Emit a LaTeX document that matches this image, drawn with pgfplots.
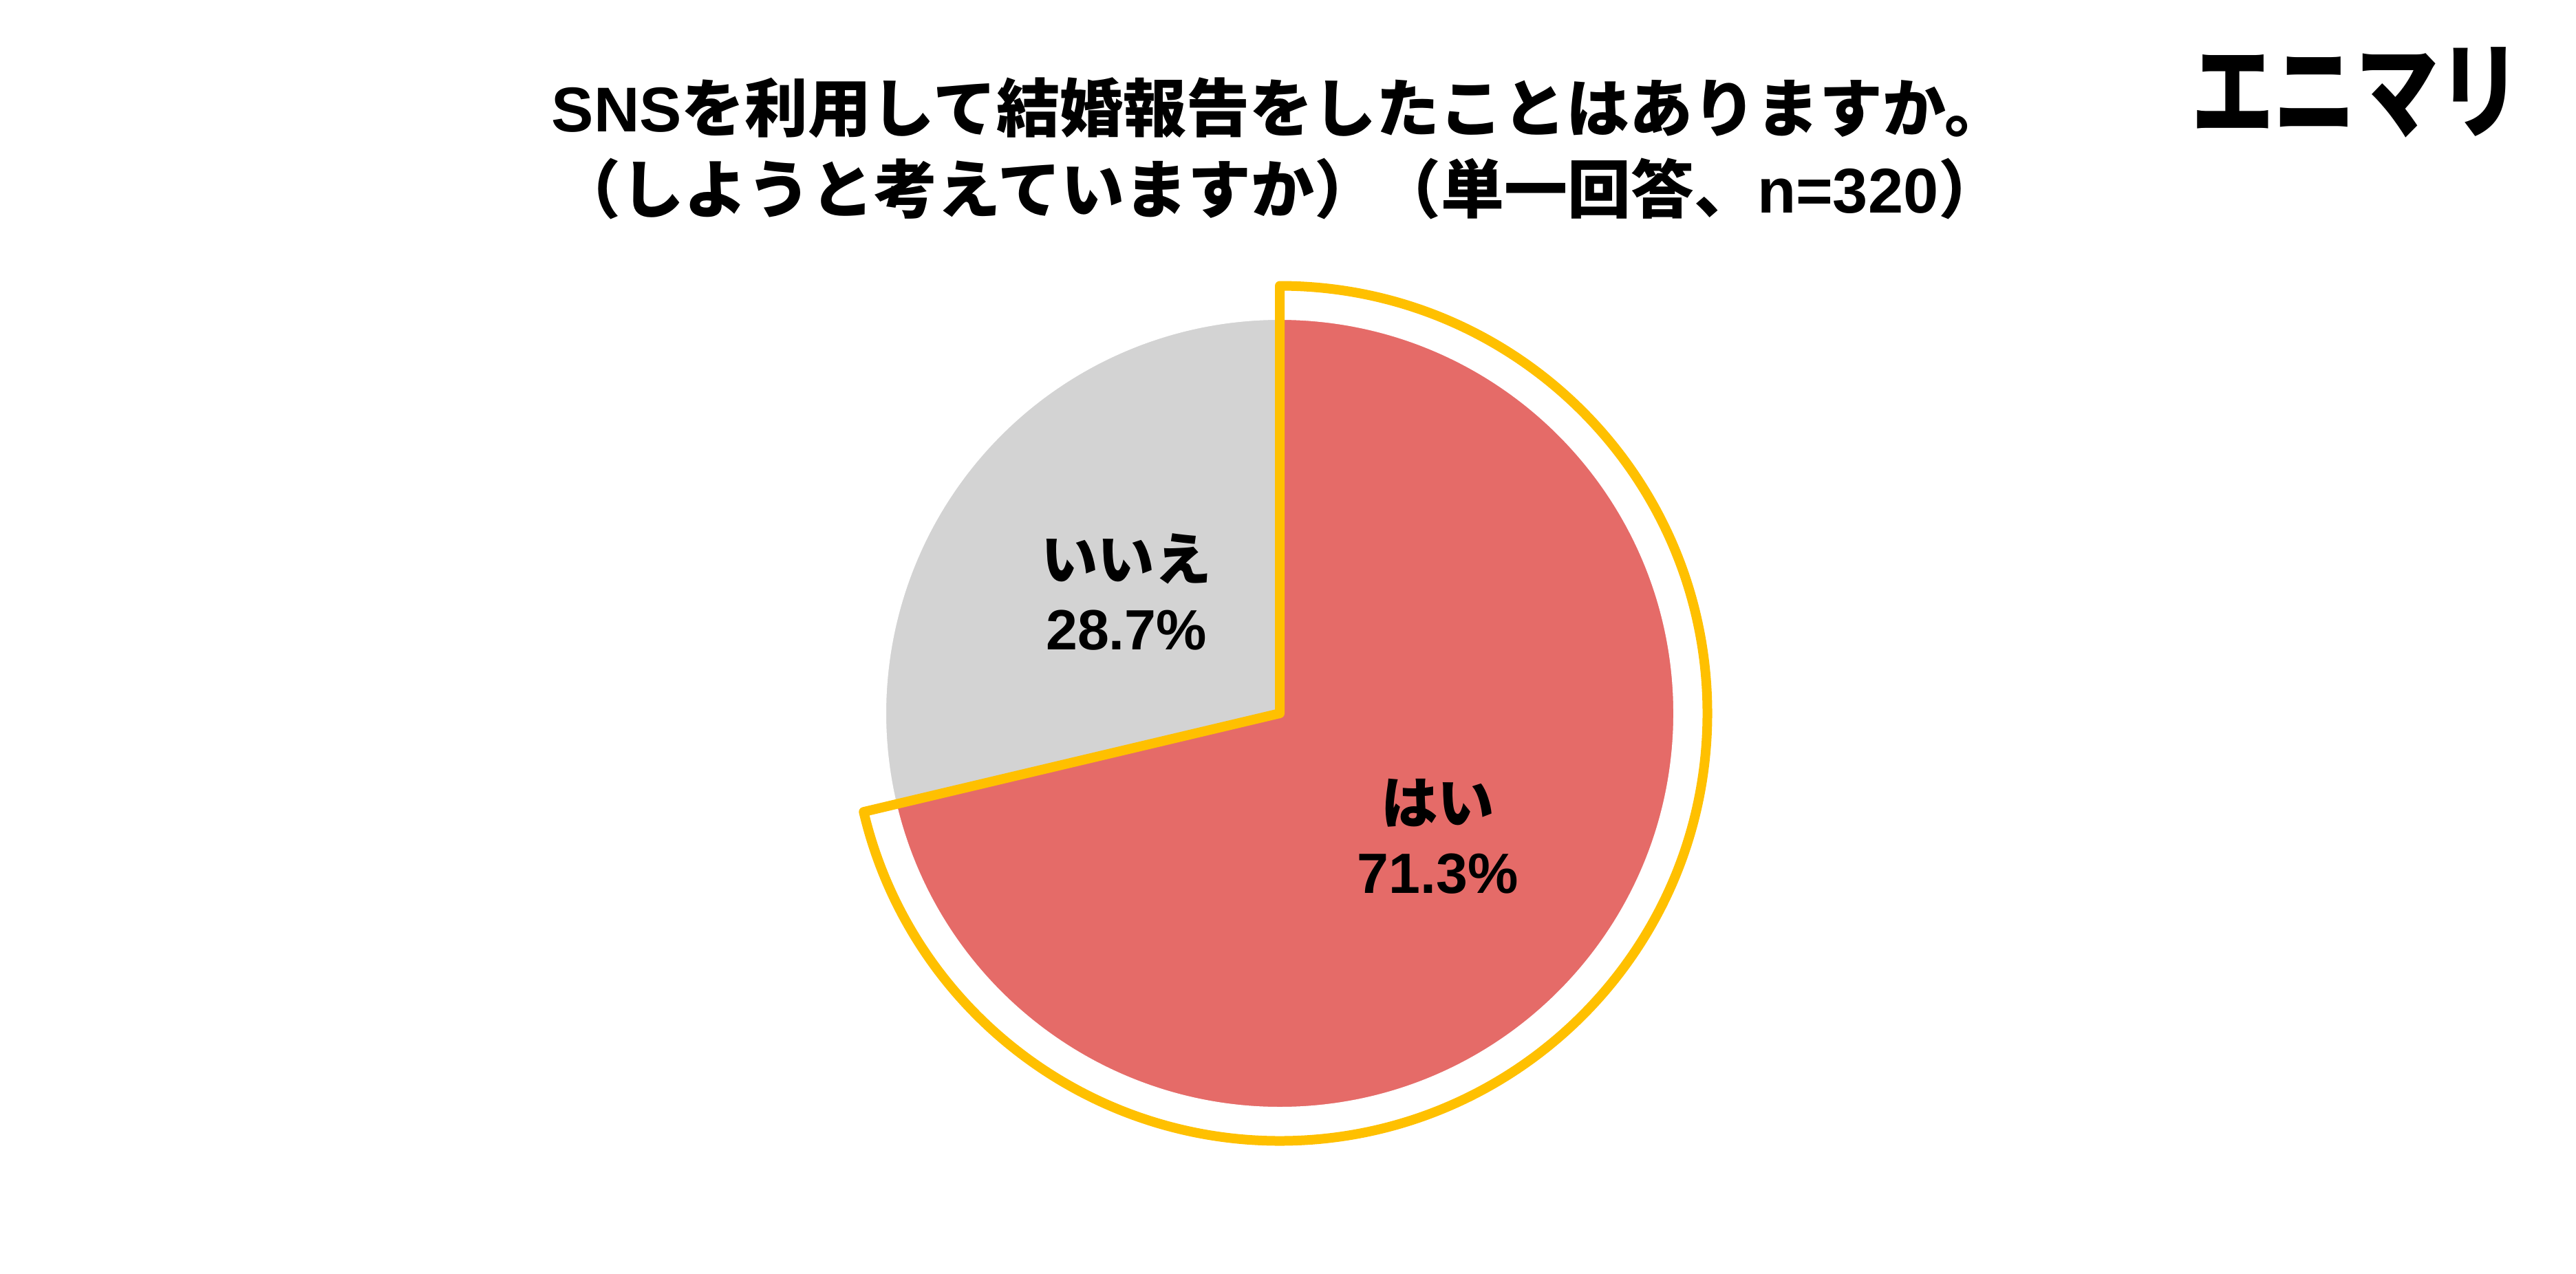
\documentclass[border=0pt]{standalone}
\usepackage{fontspec}
\usepackage{pgfplots}
\pgfplotsset{compat=1.18}
\usepackage{pgfplotstable}
\newfontfamily\jp{Noto Sans CJK JP}
\newfontfamily\lat{Liberation Sans}
\definecolor{pieRed}{RGB}{229,107,104}
\definecolor{pieGrey}{RGB}{211,211,211}
\definecolor{pieYellow}{RGB}{255,192,0}
\pgfplotstableread{
label value
yes 71.3
no 28.7
}\piedata
\begin{document}
\begin{tikzpicture}
\path (0,0) rectangle (748.8pt,370.2pt);
% title
\node[anchor=base,inner sep=0pt] at (372pt,331.8pt)
  {\fontsize{18.4}{22}\selectfont\bfseries{\lat SNS}{\jp を利用して結婚報告をしたことはありますか。}};
\node[anchor=base,inner sep=0pt] at (372pt,308.2pt)
  {\fontsize{18.4}{22}\selectfont\bfseries{\jp （しようと考えていますか）（単一回答、}{\lat n=320}{\jp ）}};
% logo
\node[anchor=east,inner sep=0pt] at (733pt,343.4pt)
  {\scalebox{0.785}[1]{\fontsize{30.5}{34}\selectfont\bfseries\jp エニマリ}};
\pgfplotstablegetelem{0}{value}\of\piedata
\let\vyes\pgfplotsretval
\pgfplotstablegetelem{1}{value}\of\piedata
\let\vno\pgfplotsretval
\pgfmathsetmacro\ayes{90-3.6*\vyes}
\begin{axis}[at={(372pt,162.8pt)}, anchor=origin,
  x=114.6pt, y=114.6pt,
  xmin=-1.15, xmax=1.15, ymin=-1.15, ymax=1.15,
  hide axis, clip=false]
\addplot[draw=none] coordinates {(0,0)};
\fill[pieRed, draw=white, line width=0.4pt] (axis cs:0,0) -- (axis cs:0,1)
  arc[start angle=90, end angle=\ayes, radius=114.6pt] -- cycle;
\fill[pieGrey, draw=white, line width=0.4pt] (axis cs:0,0) -- (axis cs:{cos(\ayes)},{sin(\ayes)})
  arc[start angle=\ayes, end angle=-270, radius=114.6pt] -- cycle;
\draw[pieYellow, line width=2.8pt, line join=round] (axis cs:0,0) -- (axis cs:0,1.0846)
  arc[start angle=90, end angle=\ayes, radius=124.3pt] -- cycle;
\node[align=center, inner sep=0pt, font=\fontsize{16.5}{20.2}\selectfont\bfseries] at (axis cs:-0.389,0.308)
  {{\jp いいえ}\\{\lat \vno\%}};
\node[align=center, inner sep=0pt, font=\fontsize{16.5}{20.2}\selectfont\bfseries] at (axis cs:0.401,-0.3115)
  {{\jp はい}\\{\lat \vyes\%}};
\end{axis}
\end{tikzpicture}
\end{document}
